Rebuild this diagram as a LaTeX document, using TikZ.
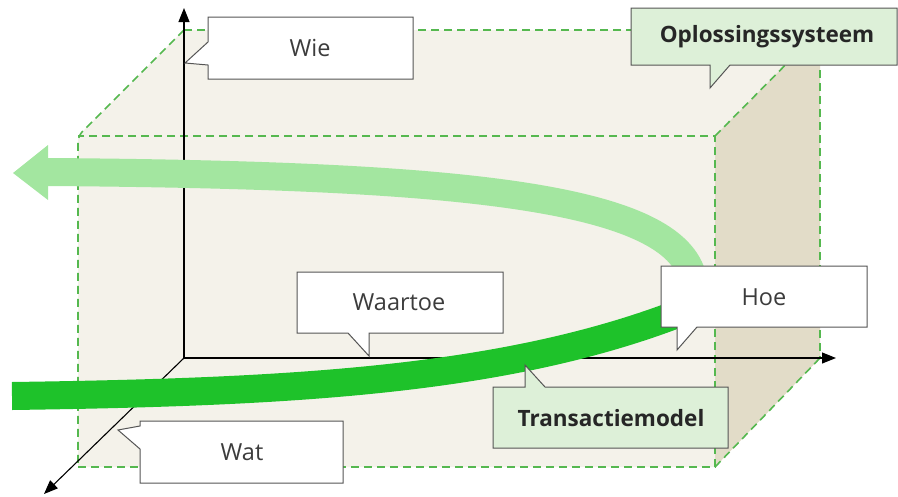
\documentclass[tikz,border=0pt]{standalone}
\usepackage{fontspec}
\setmainfont{Open Sans}
\usetikzlibrary{arrows.meta}
\definecolor{beige}{HTML}{F4F2EA}
\definecolor{tan}{HTML}{E2DCC8}
\definecolor{dgreen}{HTML}{1EC22A}
\definecolor{lgreen}{HTML}{A3E6A0}
\definecolor{edgegreen}{HTML}{55B84F}
\definecolor{callgreen}{HTML}{DDF0D8}
\definecolor{calledge}{HTML}{555555}
\definecolor{txtgray}{HTML}{3C3C3C}
\tikzset{
  boxedge/.style={edgegreen, line width=1.6pt, dash pattern=on 8pt off 5pt},
  axisline/.style={black, line width=1.1pt, -{Triangle[length=14pt,width=11pt]}},
  callwhite/.style={fill=white, draw=calledge, line width=1pt},
  callgr/.style={fill=callgreen, draw=calledge, line width=1pt},
  lbl/.style={text=txtgray, font=\fontsize{23.5}{27}\selectfont, inner sep=0pt},
  lblbold/.style={text=black!85, font=\fontsize{22.5}{26}\selectfont\bfseries, inner sep=0pt}
}
\begin{document}
\begin{tikzpicture}[x=1pt,y=-1pt]
\useasboundingbox (0,0) rectangle (898,496);
% box fills
\fill[beige] (78,136) -- (184,30) -- (820,30) -- (820,358) -- (715,467) -- (78,467) -- cycle;
\fill[tan] (715,136) -- (820,30) -- (820,358) -- (715,467) -- cycle;
% dashed edges
\draw[boxedge] (184,30) -- (820,30) -- (820,358);
\draw[boxedge, rounded corners=6pt] (184,30) -- (78,136) -- (78,467);
\draw[boxedge] (78,467) -- (715,467) -- (715,136) -- (78,136);
\draw[boxedge] (715,136) -- (820,30);
\draw[boxedge] (715,467) -- (820,358);
% axes
\coordinate (O) at (184,358);
\coordinate (ytip) at (184,8);
\coordinate (xtip) at (836,358);
\coordinate (ztip) at (44,494);
\draw[axisline] (O) -- (ytip);
\draw[axisline] (O) -- (xtip);
\draw[axisline] (O) -- (ztip);
% light green arrow
\coordinate (la) at (692,275);
\coordinate (lb) at (48,172);
\draw[lgreen, line width=28pt] (la) .. controls (668,195) and (450,175) .. (lb);
\fill[lgreen] (48,145) -- (13,173) -- (48,200) -- cycle;
% dark green arrow
\coordinate (da) at (12,396);
\coordinate (db) at (700,305);
\draw[dgreen, line width=28pt] (da) .. controls (300,392) and (520,380) .. (db);
% callouts
\draw[callwhite] (208,17) -- (413,17) -- (413,79) -- (208,79) -- (208,65) -- (185,63) -- (208,42) -- cycle;
\node[lbl] (wie) at (310,48) {Wie};
\draw[callgr] (631,8) -- (897,8) -- (897,65) -- (730,65) -- (710,88) -- (710,65) -- (631,65) -- cycle;
\node[lblbold] (opl) at (767,37) {Oplossingssysteem};
\draw[callwhite] (297,272) -- (503,272) -- (503,333) -- (369,333) -- (369,356) -- (348,333) -- (297,333) -- cycle;
\node[lbl] (waartoe) at (399,302) {Waartoe};
\draw[callwhite] (661,266) -- (867,266) -- (867,327) -- (697,327) -- (677,350) -- (677,327) -- (661,327) -- cycle;
\node[lbl] (hoe) at (764,297) {Hoe};
\draw[callgr] (493,387) -- (525,387) -- (525,365) -- (545,387) -- (728,387) -- (728,448) -- (493,448) -- cycle;
\node[lblbold] (trans) at (611,418) {Transactiemodel};
\draw[callwhite] (140,421) -- (343,421) -- (343,483) -- (140,483) -- (140,449) -- (118,430) -- (140,426) -- cycle;
\node[lbl] (wat) at (242,452) {Wat};
\end{tikzpicture}
\end{document}
